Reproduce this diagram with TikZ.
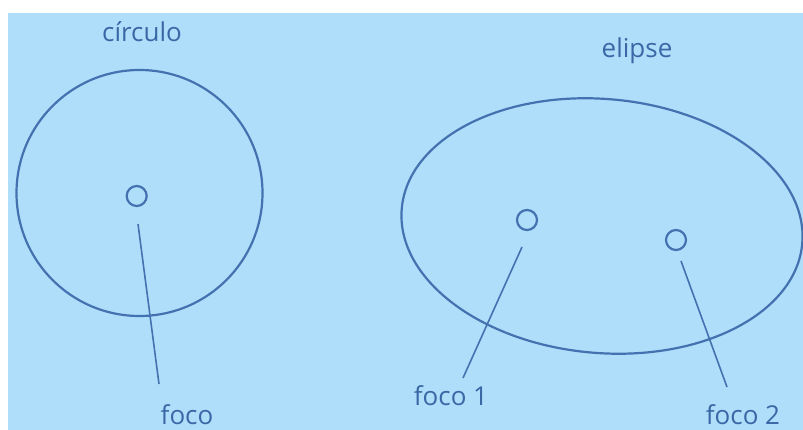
\documentclass[tikz,border=0pt]{standalone}
\usepackage{fontspec}
\setmainfont{Open Sans}
\definecolor{bgblue}{RGB}{174,222,250}
\definecolor{lineblue}{RGB}{68,114,176}
\definecolor{txtblue}{RGB}{58,104,166}
\begin{document}
\begin{tikzpicture}[x=1pt,y=-1pt,
  lbl/.style={text=txtblue, font=\fontsize{26}{31}\selectfont, inner sep=0pt, anchor=base},
  shapeline/.style={draw=lineblue, line width=2.2pt},
  focus/.style={circle, draw=lineblue, line width=2.2pt, minimum size=20pt, inner sep=0pt},
  pointer/.style={draw=lineblue, line width=1.6pt}]
\useasboundingbox (0,0) rectangle (803,430);
\fill[white] (0,0) rectangle (803,430);
\fill[bgblue] (8,13) rectangle (803,430);
% circle
\draw[shapeline] (139.5,193) circle [radius=123];
\node[lbl] (tc) at (142,42) {círculo};
\node[focus] (f0) at (136.7,196) {};
\node[lbl] (l0) at (187,424) {foco};
\coordinate (p0a) at (138,224);
\coordinate (p0b) at (159,384);
\draw[pointer] (p0a) -- (p0b);
% ellipse
\draw[shapeline, rotate around={-5:(602,226)}] (602,226) ellipse [x radius=201, y radius=127];
\node[lbl] (te) at (637,58) {elipse};
\node[focus] (f1) at (527,220) {};
\node[focus] (f2) at (676,240) {};
\node[lbl] (l1) at (451,405) {foco 1};
\node[lbl] (l2) at (743,424) {foco 2};
\coordinate (p1a) at (522,247);
\coordinate (p1b) at (463,378);
\coordinate (p2a) at (681,261);
\coordinate (p2b) at (727,387);
\draw[pointer] (p1a) -- (p1b);
\draw[pointer] (p2a) -- (p2b);
\end{tikzpicture}
\end{document}
